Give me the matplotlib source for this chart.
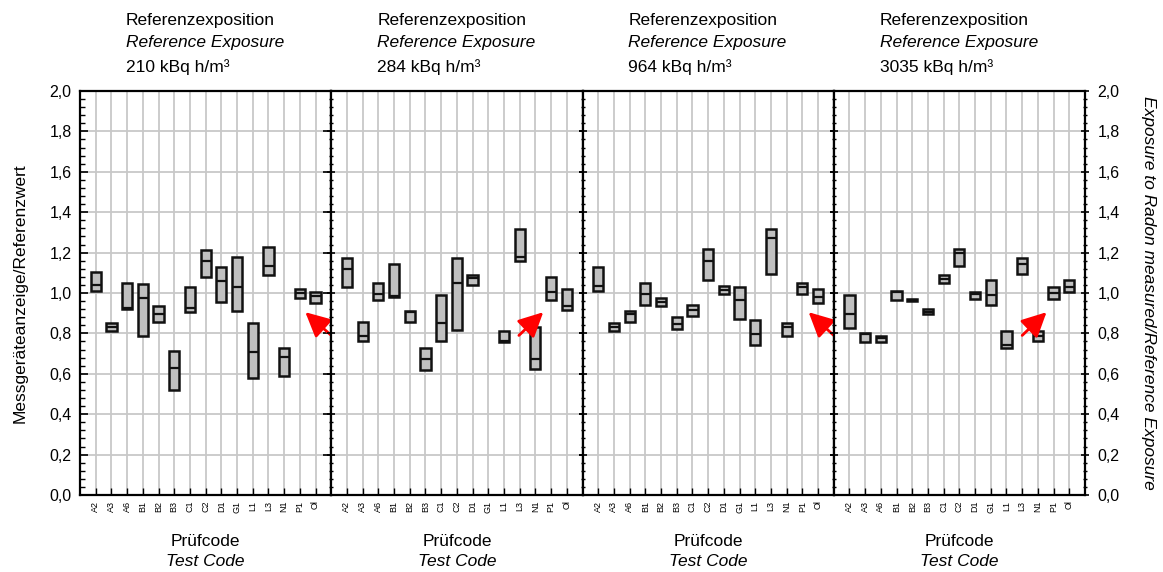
import matplotlib
matplotlib.use("Agg")
import matplotlib.pyplot as plt
from matplotlib.ticker import MultipleLocator, FuncFormatter
import numpy as np

plt.rcParams['font.family'] = ['Liberation Sans', 'DejaVu Sans']

codes = ['A2', 'A3', 'A6', 'B1', 'B2', 'B3', 'C1', 'C2', 'D1', 'G1',
         'L1', 'L3', 'N1', 'P1', 'Ol']
exposures = ['210 kBq h/m³', '284 kBq h/m³', '964 kBq h/m³', '3035 kBq h/m³']

nan = np.nan
# box bottom / median / top per test code, one list per reference exposure
low_210 = [1.011, 0.810, 0.919, 0.789, 0.858, 0.520, 0.904, 1.081, 0.957, 0.911, 0.581, 1.089, 0.588, 0.974, 0.949]
med_210 = [1.040, 0.830, 0.925, 0.974, 0.898, 0.627, 0.927, 1.157, 1.059, 1.030, 0.707, 1.135, 0.682, 0.998, 0.987]
high_210 = [1.102, 0.850, 1.050, 1.043, 0.936, 0.713, 1.028, 1.213, 1.127, 1.180, 0.850, 1.226, 0.726, 1.018, 1.003]

low_284 = [1.028, 0.764, 0.964, 0.980, 0.858, 0.619, 0.764, 0.818, 1.041, nan, 0.756, 1.157, 0.625, 0.964, 0.918]
med_284 = [1.119, 0.787, 0.997, 0.987, 0.904, 0.673, 0.851, 1.050, 1.073, nan, 0.762, 1.180, 0.673, 1.005, 0.936]
high_284 = [1.172, 0.858, 1.050, 1.142, 0.911, 0.726, 0.988, 1.172, 1.087, nan, 0.812, 1.318, 0.833, 1.079, 1.018]

low_964 = [1.011, 0.810, 0.858, 0.942, 0.934, 0.820, 0.888, 1.066, 0.997, 0.873, 0.741, 1.096, 0.789, 0.997, 0.949]
med_964 = [1.035, 0.830, 0.898, 0.997, 0.955, 0.847, 0.914, 1.158, 1.015, 0.965, 0.797, 1.271, 0.833, 1.028, 0.982]
high_964 = [1.127, 0.850, 0.911, 1.050, 0.974, 0.881, 0.941, 1.218, 1.035, 1.028, 0.865, 1.318, 0.850, 1.050, 1.018]

low_3035 = [0.825, 0.756, 0.756, 0.964, 0.958, 0.894, 1.048, 1.132, 0.972, 0.942, 0.726, 1.096, 0.764, 0.972, 1.003]
med_3035 = [0.898, 0.797, 0.777, 1.003, 0.965, 0.907, 1.071, 1.197, 0.997, 0.988, 0.741, 1.142, 0.789, 0.998, 1.028]
high_3035 = [0.988, 0.803, 0.789, 1.010, 0.972, 0.919, 1.089, 1.218, 1.003, 1.064, 0.810, 1.172, 0.812, 1.028, 1.064]

lows = [low_210, low_284, low_964, low_3035]
meds = [med_210, med_284, med_964, med_3035]
highs = [high_210, high_284, high_964, high_3035]

# red arrows (tail -> tip) pointing at the reference device
arrow_tail = [(15.0, 0.79), (10.95, 0.79), (15.0, 0.79), (11.0, 0.79)]
arrow_tip = [(13.35, 0.905), (12.5, 0.905), (13.4, 0.905), (12.55, 0.905)]

W, H = 1163, 572
fig = plt.figure(figsize=(W / 100, H / 100), dpi=100)

left_px, right_px = 80, 1085
top_px, bot_px = 91, 495
pw = (right_px - left_px) / 4
x = np.arange(len(codes))
box_w = 0.65
comma = FuncFormatter(lambda v, p: f"{v:.1f}".replace('.', ','))

for i in range(4):
    ax = fig.add_axes([(left_px + i * pw) / W, 1 - bot_px / H, pw / W, (bot_px - top_px) / H])
    lo = np.array(lows[i])
    md = np.array(meds[i])
    hi = np.array(highs[i])
    ok = ~np.isnan(lo)
    ax.bar(x[ok], hi[ok] - lo[ok], bottom=lo[ok], width=box_w, color='#c0c0c0',
           edgecolor='#111111', linewidth=1.8, zorder=3)
    ax.hlines(md[ok], x[ok] - box_w / 2, x[ok] + box_w / 2, color='#111111', lw=1.6, zorder=4)

    ax.annotate('', xy=arrow_tip[i], xytext=arrow_tail[i],
                arrowprops=dict(arrowstyle='-|>,head_length=1.0,head_width=0.5',
                                color='red', lw=2, mutation_scale=15,
                                shrinkA=0, shrinkB=0),
                zorder=5, annotation_clip=False)

    ax.set_xlim(-1, 15)
    ax.set_ylim(0, 2.0)
    ax.set_xticks(x)
    ax.set_xticklabels(codes, rotation=90, fontsize=6.5)
    ax.yaxis.set_major_locator(MultipleLocator(0.2))
    ax.yaxis.set_minor_locator(MultipleLocator(0.04))
    ax.yaxis.set_major_formatter(comma)
    ax.grid(True, which='major', color='#c8c8c8', lw=1.3, zorder=0)
    ax.set_axisbelow(True)
    for s in ax.spines.values():
        s.set_linewidth(1.6)

    ax.tick_params(axis='x', direction='in', length=5, width=1, pad=4, top=False)
    ax.tick_params(axis='y', which='major', direction='in', length=6, width=1.2,
                   left=True, right=True, labelleft=(i == 0), labelright=(i == 3),
                   labelsize=11.5, pad=6)
    ax.tick_params(axis='y', which='minor', direction='in', length=3.5, width=1,
                   left=True, right=(i == 3))
    if i > 0:
        ax.tick_params(axis='y', which='both', direction='inout', left=True)

    if i == 0:
        ax.set_ylabel('Messgeräteanzeige/Referenzwert', fontsize=12.5, labelpad=16)
    if i == 3:
        ax.yaxis.set_label_position('right')
        ax.set_ylabel('Exposure to Radon measured/Reference Exposure', fontsize=12.5,
                      style='italic', rotation=270, labelpad=26)

    x0 = (left_px + i * pw + 46) / W
    fig.text(x0, 1 - 20 / H, 'Referenzexposition', fontsize=12.5, va='center')
    fig.text(x0, 1 - 43 / H, 'Reference Exposure', fontsize=12.5, va='center', style='italic')
    fig.text(x0, 1 - 67 / H, exposures[i], fontsize=12.5, va='center')

    xc = (left_px + (i + 0.5) * pw) / W
    fig.text(xc, 1 - 541 / H, 'Prüfcode', fontsize=12.5, ha='center', va='center')
    fig.text(xc, 1 - 562 / H, 'Test Code', fontsize=12.5, ha='center', va='center', style='italic')

fig.savefig('out.png', dpi=100)
